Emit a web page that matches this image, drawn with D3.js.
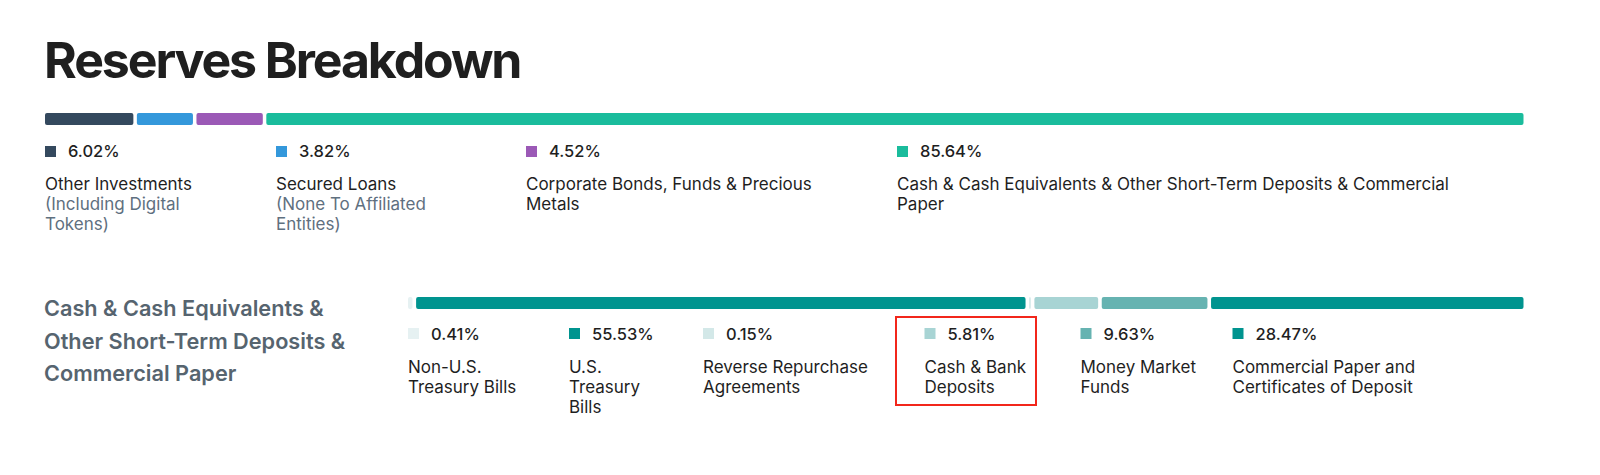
<!DOCTYPE html>
<html>
<head>
<meta charset="utf-8">
<script src="https://cdn.jsdelivr.net/npm/d3@7"></script>
<style>
  html, body { margin: 0; padding: 0; background: #ffffff; }
  svg { display: block; font-family: Inter, "Noto Sans", sans-serif; }
</style>
</head>
<body>
<svg id="chart" width="1600" height="475"></svg>
<script>
// ---- Data ----
const titleText = "Reserves Breakdown";

const topCategories = [
  "Other Investments",
  "Secured Loans",
  "Corporate Bonds, Funds & Precious Metals",
  "Cash & Cash Equivalents & Other Short-Term Deposits & Commercial Paper"
];
const topValues = [6.02, 3.82, 4.52, 85.64];
const topColors = ["#34495e", "#3498db", "#9b59b6", "#1abc9c"];
const topLabelLines = [
  ["Other Investments"],
  ["Secured Loans"],
  ["Corporate Bonds, Funds & Precious", "Metals"],
  ["Cash & Cash Equivalents & Other Short-Term Deposits & Commercial", "Paper"]
];
const topSubLines = [
  ["(Including Digital", "Tokens)"],
  ["(None To Affiliated", "Entities)"],
  [],
  []
];

const sectionTitleLines = ["Cash & Cash Equivalents &", "Other Short-Term Deposits &", "Commercial Paper"];

const bottomCategories = [
  "Non-U.S. Treasury Bills",
  "U.S. Treasury Bills",
  "Reverse Repurchase Agreements",
  "Cash & Bank Deposits",
  "Money Market Funds",
  "Commercial Paper and Certificates of Deposit"
];
const bottomValues = [0.41, 55.53, 0.15, 5.81, 9.63, 28.47];
const bottomColors = ["#e6f1f2", "#00948f", "#d3e8e8", "#a8d4d4", "#66b3b1", "#00948f"];
const bottomLabelLines = [
  ["Non-U.S.", "Treasury Bills"],
  ["U.S.", "Treasury", "Bills"],
  ["Reverse Repurchase", "Agreements"],
  ["Cash & Bank", "Deposits"],
  ["Money Market", "Funds"],
  ["Commercial Paper and", "Certificates of Deposit"]
];
const highlightedCategory = "Cash & Bank Deposits";

// ---- Layout ----
const layout = {
  title: { x: 44, y: 78, size: 50, spacing: -2.1 },
  topBar: { x0: 45, x1: 1523.5, y: 113, h: 12, gap: 3.5 },
  topLegendX: [45, 276, 526, 897],
  topLegend: { sqY: 146, pctY: 157, lineY: 190, lineH: 20 },
  section: { x: 44, y: 316, lineH: 32.5, size: 21.7 },
  bottomBar: { x0: 408, x1: 1523.5, y: 297, h: 12, gap: 3.6 },
  bottomLegendX: [408, 569, 703, 924.5, 1080.5, 1232.5],
  bottomLegend: { sqY: 328, pctY: 340, lineY: 373, lineH: 20 },
  highlight: { x: 896, y: 317, w: 140, h: 88 },
  pctSize: 16.5,
  labelSize: 17
};

const fmt = v => d3.format(".2f")(v) + "%";
const svg = d3.select("#chart");
svg.append("rect").attr("width", 1600).attr("height", 475).attr("fill", "#ffffff");

// Title
svg.append("text")
  .attr("x", layout.title.x).attr("y", layout.title.y)
  .attr("font-size", layout.title.size).attr("font-weight", 700)
  .attr("fill", "#1f1f1f").attr("letter-spacing", layout.title.spacing)
  .text(titleText);

function drawBar(values, colors, cfg) {
  const n = values.length;
  const avail = (cfg.x1 - cfg.x0) - cfg.gap * (n - 1);
  const x = d3.scaleLinear().domain([0, d3.sum(values)]).range([0, avail]);
  const cum = d3.cumsum([0].concat(values));
  svg.append("g").selectAll("rect").data(values).join("rect")
    .attr("x", (d, i) => cfg.x0 + x(cum[i]) + i * cfg.gap)
    .attr("y", cfg.y)
    .attr("width", d => Math.max(1, x(d)))
    .attr("height", cfg.h)
    .attr("rx", 2).attr("ry", 2)
    .attr("fill", (d, i) => colors[i]);
}

function drawLegend(values, colors, xs, cfg, mainLines, subLines) {
  const g = svg.append("g");
  const items = g.selectAll("g").data(values).join("g")
    .attr("transform", (d, i) => `translate(${xs[i]},0)`);
  items.append("rect")
    .attr("x", 0).attr("y", cfg.sqY).attr("width", 11).attr("height", 11)
    .attr("fill", (d, i) => colors[i]);
  items.append("text")
    .attr("x", 23).attr("y", cfg.pctY)
    .attr("font-size", layout.pctSize).attr("font-weight", 500).attr("fill", "#1f1f1f")
    .text(d => fmt(d));
  items.each(function (d, i) {
    const sel = d3.select(this);
    const lines = mainLines[i].map(t => ({ t, sub: false }))
      .concat((subLines ? subLines[i] : []).map(t => ({ t, sub: true })));
    lines.forEach((ln, k) => {
      sel.append("text")
        .attr("x", 0).attr("y", cfg.lineY + k * cfg.lineH)
        .attr("font-size", layout.labelSize).attr("font-weight", 400)
        .attr("fill", ln.sub ? "#5f7080" : "#1f1f1f")
        .text(ln.t);
    });
  });
}

drawBar(topValues, topColors, layout.topBar);
drawLegend(topValues, topColors, layout.topLegendX, layout.topLegend, topLabelLines, topSubLines);

// Section heading
sectionTitleLines.forEach((t, k) => {
  svg.append("text")
    .attr("x", layout.section.x).attr("y", layout.section.y + k * layout.section.lineH)
    .attr("font-size", layout.section.size).attr("font-weight", 600)
    .attr("fill", "#56646f")
    .text(t);
});

drawBar(bottomValues, bottomColors, layout.bottomBar);
drawLegend(bottomValues, bottomColors, layout.bottomLegendX, layout.bottomLegend, bottomLabelLines, null);

// Highlight annotation around one category
const hi = bottomCategories.indexOf(highlightedCategory);
if (hi >= 0) {
  svg.append("rect")
    .attr("x", layout.highlight.x).attr("y", layout.highlight.y)
    .attr("width", layout.highlight.w).attr("height", layout.highlight.h)
    .attr("fill", "none").attr("stroke", "#f2261b").attr("stroke-width", 2);
}
</script>
</body>
</html>
